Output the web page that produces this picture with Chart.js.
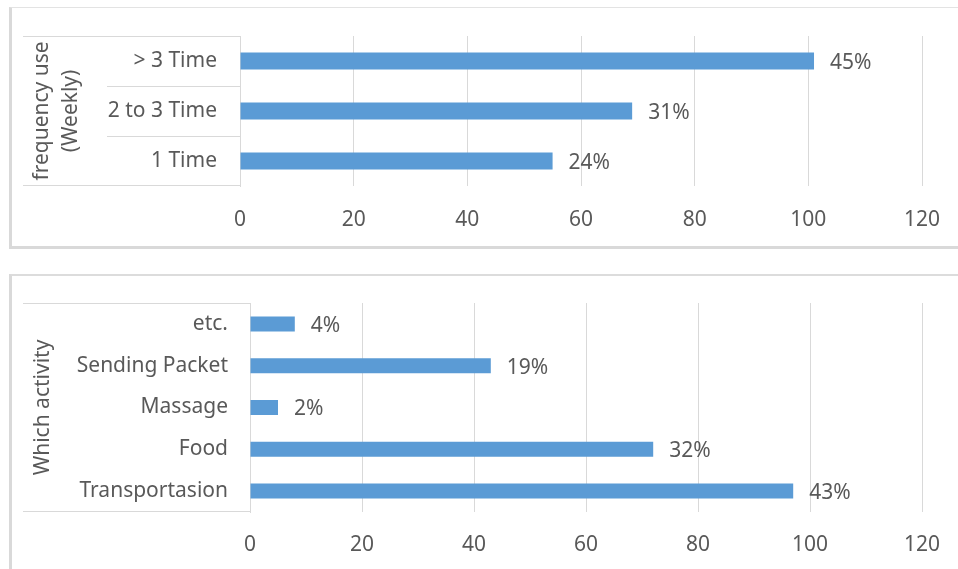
<!DOCTYPE html>
<html>
<head>
<meta charset="utf-8">
<script src="https://cdn.jsdelivr.net/npm/chart.js@4.4.1/dist/chart.umd.min.js"></script>
<style>
  body { margin: 0; background: #fff; width: 958px; height: 569px; overflow: hidden; position: relative; }
  .box { position: absolute; box-sizing: border-box; }
  #box1 { left: 9px; top: 7px; width: 1000px; height: 242px; border-left: 3px solid #d9d9d9; border-top: 1px solid #e3e3e3; border-bottom: 3px solid #d9d9d9; }
  #box2 { left: 9px; top: 274px; width: 1000px; height: 400px; border-left: 3px solid #d9d9d9; border-top: 2px solid #dcdcdc; }
  canvas { position: absolute; left: 0; }
  #freq { top: 0; }
  #act { top: 260px; }
</style>
</head>
<body>
<div class="box" id="box1"></div>
<div class="box" id="box2"></div>
<canvas id="freq" width="958" height="250"></canvas>
<canvas id="act" width="958" height="309"></canvas>
<script>
// chart values
const freqLabels = ["> 3 Time", "2 to 3 Time", "1 Time"];
const freqValues = [101, 69, 55];
const freqPct = ["45%", "31%", "24%"];

const actLabels = ["etc.", "Sending Packet", "Massage", "Food", "Transportasion"];
const actValues = [8, 43, 5, 72, 97];
const actPct = ["4%", "19%", "2%", "32%", "43%"];

const xMin = 0, xMax = 120, xStep = 20;

Chart.defaults.font.family = '"Noto Sans", sans-serif';
Chart.defaults.font.size = 21;
Chart.defaults.color = "#595959";

const GRID = "#d9d9d9";
const BLUE = "#5b9bd5";

// percentage text at the end of each bar
const pctLabels = {
  id: "pctLabels",
  afterDatasetsDraw(chart, args, opts) {
    const ctx = chart.ctx;
    const meta = chart.getDatasetMeta(0);
    ctx.save();
    ctx.font = '21px "Noto Sans", sans-serif';
    ctx.fillStyle = "#595959";
    ctx.textAlign = "left";
    ctx.textBaseline = "middle";
    meta.data.forEach((bar, i) => {
      ctx.fillText(opts.texts[i], bar.x + 16, bar.y + 2);
    });
    ctx.restore();
  },
};

// the box around the category labels (excel multi-level axis look)
const catBox = {
  id: "catBox",
  afterDraw(chart, args, opts) {
    const ctx = chart.ctx;
    const area = chart.chartArea;
    const y = chart.scales.y;
    ctx.save();
    ctx.strokeStyle = GRID;
    ctx.lineWidth = 1;
    ctx.beginPath();
    ctx.moveTo(opts.x0, area.top + 0.5);
    ctx.lineTo(area.left, area.top + 0.5);
    ctx.moveTo(opts.x0, area.bottom - 0.5);
    ctx.lineTo(area.left, area.bottom - 0.5);
    if (opts.sepX) {
      for (let i = 1; i < y.ticks.length; i++) {
        const yy = Math.round((y.getPixelForTick(i - 1) + y.getPixelForTick(i)) / 2) + 0.5;
        ctx.moveTo(opts.sepX, yy);
        ctx.lineTo(area.left, yy);
      }
    }
    ctx.stroke();
    ctx.restore();
  },
};

function makeBarChart(id, labels, values, pct, o) {
  return new Chart(document.getElementById(id), {
    type: "bar",
    plugins: [pctLabels, catBox],
    data: {
      labels: labels,
      datasets: [
        {
          data: values,
          backgroundColor: BLUE,
          barPercentage: o.barPct,
          categoryPercentage: 1,
        },
      ],
    },
    options: {
      indexAxis: "y",
      responsive: false,
      animation: false,
      layout: { padding: { top: o.top, right: 36, left: 0, bottom: 0 } },
      plugins: {
        legend: { display: false },
        tooltip: { enabled: false },
        pctLabels: { texts: pct },
        catBox: { x0: 23, sepX: o.sepX },
      },
      scales: {
        x: {
          min: xMin,
          max: xMax,
          ticks: { stepSize: xStep, padding: o.xPad },
          grid: { color: GRID, drawTicks: false },
          border: { display: false },
          afterFit: (s) => {
            s.height = o.xHeight;
            s.paddingLeft = 0;
            s.paddingRight = 0;
          },
        },
        y: {
          ticks: { padding: o.yPad },
          grid: { display: false, drawTicks: false },
          border: { display: true, color: GRID },
          title: {
            display: true,
            text: o.title,
            font: { size: 21, lineHeight: 1.4 },
            padding: { top: o.titlePad, bottom: 0 },
          },
          afterFit: (s) => { s.width = o.yWidth; },
        },
      },
    },
  });
}

makeBarChart("freq", freqLabels, freqValues, freqPct, {
  top: 36, xHeight: 64, yWidth: 240, xPad: 21, yPad: 23,
  barPct: 0.34, sepX: 107,
  title: ["frequency use", "(Weekly)"], titlePad: 27,
});

makeBarChart("act", actLabels, actValues, actPct, {
  top: 43, xHeight: 57, yWidth: 250, xPad: 20, yPad: 22,
  barPct: 0.36, sepX: null,
  title: "Which activity", titlePad: 28,
});
</script>
</body>
</html>
